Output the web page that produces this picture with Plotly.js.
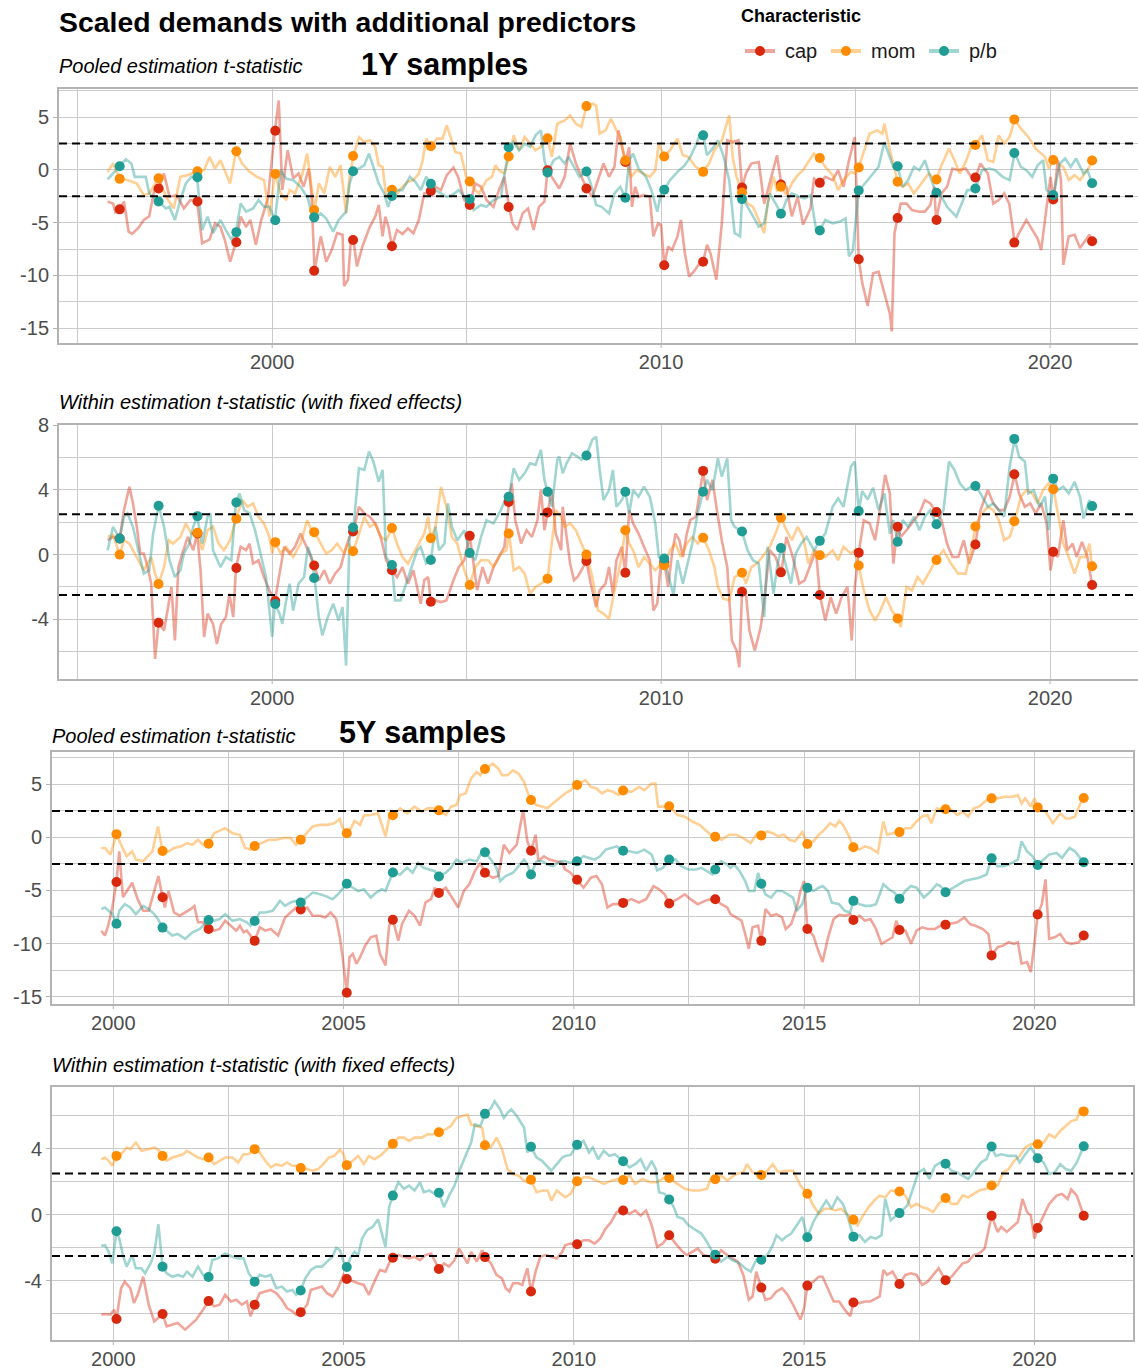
<!DOCTYPE html>
<html><head><meta charset="utf-8">
<script src="https://cdn.plot.ly/plotly-3.0.1.min.js"></script>
<style>html,body{margin:0;padding:0;background:#fff;}#chart{width:1138px;height:1372px;}</style>
</head><body><div id="chart"></div>
<script>
// ---------- marker sample dates ----------
const YEARS_1Y = [1996.08,1997.08,1998.08,1999.08,2000.08,2001.08,2002.08,2003.08,2004.08,2005.08,2006.08,2007.08,2008.08,2009.08,2010.08,2011.08,2012.08,2013.08,2014.08,2015.08,2016.08,2017.08,2018.08,2019.08,2020.08,2021.08];
const YEARS_5Y = [2000.07,2001.07,2002.07,2003.07,2004.07,2005.07,2006.07,2007.07,2008.07,2009.07,2010.07,2011.07,2012.07,2013.07,2014.07,2015.07,2016.07,2017.07,2018.07,2019.07,2020.07,2021.07];

// ---------- Panel 1: 1Y pooled ----------
const P1_cap_pts = [-3.74,-1.76,-3.0,-6.86,3.71,-9.56,-6.64,-7.23,-2.01,-3.33,-3.52,-0.03,-1.76,0.75,-9.03,-8.71,-1.67,-1.38,-1.23,-8.46,-4.56,-4.75,-0.72,-6.89,-2.8,-6.76];
const P1_mom_pts = [-0.85,-0.79,-0.13,1.76,-0.38,-3.8,1.32,-1.89,2.23,-1.1,1.26,2.99,6.04,0.88,1.26,-0.19,-2.14,-1.6,1.13,0.22,-1.13,-0.91,2.36,4.78,0.94,0.88];
const P1_pb_pts  = [0.35,-3.0,-0.7,-5.9,-4.78,-4.5,-0.13,-2.48,-1.32,-2.77,2.14,-0.25,-0.16,-2.64,-1.89,3.27,-2.77,-4.15,-5.75,-1.95,0.35,-2.17,-1.76,1.6,-2.39,-1.26];

const P1_cap_t = [1995.77,1995.91,1995.97,1996.08,1996.19,1996.31,1996.40,1996.56,1996.70,1996.84,1996.97,1997.08,1997.22,1997.36,1997.55,1997.73,1997.90,1998.07,1998.20,1998.39,1998.53,1998.67,1998.78,1998.92,1999.07,1999.19,1999.33,1999.44,1999.58,1999.72,1999.89,2000.07,2000.17,2000.26,2000.40,2000.54,2000.68,2000.81,2000.94,2001.01,2001.09,2001.25,2001.39,2001.53,2001.67,2001.81,2001.85,2001.95,2002.02,2002.09,2002.18,2002.32,2002.51,2002.65,2002.74,2002.84,2002.91,2002.99,2003.08,2003.21,2003.35,2003.49,2003.63,2003.77,2003.91,2004.08,2004.20,2004.34,2004.49,2004.66,2004.78,2004.94,2005.08,2005.22,2005.37,2005.51,2005.69,2005.83,2005.97,2006.09,2006.18,2006.30,2006.44,2006.58,2006.72,2006.86,2007.00,2007.08,2007.24,2007.38,2007.52,2007.66,2007.81,2007.95,2008.08,2008.23,2008.38,2008.52,2008.66,2008.80,2008.90,2008.99,2009.08,2009.18,2009.25,2009.33,2009.42,2009.56,2009.71,2009.80,2009.92,2010.00,2010.08,2010.18,2010.28,2010.42,2010.51,2010.61,2010.72,2010.85,2010.99,2011.08,2011.18,2011.27,2011.42,2011.56,2011.70,2011.84,2011.99,2012.08,2012.18,2012.32,2012.51,2012.65,2012.79,2012.98,2013.09,2013.22,2013.36,2013.51,2013.65,2013.84,2013.93,2014.08,2014.22,2014.41,2014.55,2014.69,2014.83,2014.98,2015.08,2015.17,2015.31,2015.45,2015.59,2015.74,2015.88,2015.93,2016.00,2016.08,2016.16,2016.31,2016.45,2016.64,2016.78,2016.92,2017.02,2017.07,2017.21,2017.35,2017.49,2017.64,2017.83,2017.97,2018.08,2018.21,2018.40,2018.54,2018.68,2018.82,2018.95,2019.09,2019.20,2019.39,2019.54,2019.68,2019.77,2019.87,2020.01,2020.09,2020.20,2020.28,2020.34,2020.48,2020.63,2020.77,2020.91,2021.01,2021.08];
const P1_cap_v = [-3.0,-3.2,-4.0,-3.74,-3.0,-5.85,-6.07,-5.5,-4.75,-4.4,-1.9,-1.76,-0.35,-2.55,-2.4,-3.65,-2.86,-3.0,-6.95,-6.6,-5.06,-5.4,-6.6,-8.7,-6.86,-4.43,-5.4,-4.75,-7.1,-4.75,-2.7,3.71,6.57,-1.9,1.86,-0.8,-0.35,-1.6,0.13,-2.2,-9.56,-6.3,-8.7,-7.6,-6.0,-6.15,-11.0,-10.4,-6.9,-6.64,-9.15,-7.26,-5.4,-4.43,-3.33,-6.3,-4.43,-5.4,-7.23,-5.7,-6.07,-5.54,-6.0,-4.75,-2.23,-2.01,-1.6,-1.92,-0.5,0.22,-0.66,-2.86,-3.33,-1.29,-1.6,-2.86,-3.5,-1.92,-0.66,-3.52,-5.06,-5.7,-4.12,-3.65,-5.7,-3.5,-3.0,-0.03,-0.97,-1.76,-0.66,2.48,0.6,-0.66,-1.76,-2.55,-1.0,0.6,-0.66,0.28,3.74,2.17,0.75,2.17,-3.5,-1.6,-2.55,-2.4,-2.55,-6.3,-5.06,-5.2,-9.03,-7.26,-7.6,-6.3,-4.75,-7.9,-10.1,-9.6,-8.84,-8.71,-7.1,-7.9,-10.4,-5.06,2.8,2.64,2.8,-1.67,-0.35,0.6,0.75,-3.2,-1.29,1.38,-1.38,-1.6,-4.4,-2.55,-5.2,-3.65,-0.82,-1.23,-0.66,-0.97,-0.03,-1.6,0.91,3.1,-8.46,-10.7,-12.9,-9.8,-9.65,-11.7,-13.6,-15.3,-6.0,-4.56,-3.2,-3.2,-3.8,-3.96,-3.96,-3.33,-1.6,-4.75,-2.23,-1.6,0.13,-0.03,0.13,-0.66,-0.72,0.6,-0.35,-3.2,-2.86,-2.23,-3.2,-6.89,-6.0,-4.75,-5.7,-6.5,-7.6,-4.75,-0.66,-2.8,0.91,-0.97,-9.0,-6.3,-6.15,-7.4,-6.6,-6.15,-6.76];

const P1_mom_t = [1995.77,1995.91,1996.08,1996.28,1996.52,1996.70,1996.84,1997.08,1997.27,1997.47,1997.64,1997.83,1998.07,1998.25,1998.39,1998.53,1998.67,1998.81,1998.92,1999.07,1999.23,1999.42,1999.61,1999.79,1999.93,2000.07,2000.22,2000.36,2000.45,2000.59,2000.78,2000.90,2001.01,2001.09,2001.20,2001.34,2001.48,2001.62,2001.76,2001.90,2001.99,2002.09,2002.23,2002.37,2002.51,2002.65,2002.74,2002.84,2002.93,2003.08,2003.21,2003.35,2003.49,2003.63,2003.77,2003.87,2003.96,2004.08,2004.24,2004.38,2004.49,2004.62,2004.71,2004.85,2004.99,2005.08,2005.22,2005.32,2005.51,2005.65,2005.74,2005.83,2005.97,2006.09,2006.21,2006.35,2006.49,2006.63,2006.77,2006.91,2007.08,2007.19,2007.33,2007.52,2007.66,2007.81,2007.95,2008.08,2008.23,2008.33,2008.42,2008.57,2008.71,2008.85,2008.95,2009.08,2009.23,2009.37,2009.56,2009.71,2009.85,2009.94,2010.08,2010.23,2010.42,2010.56,2010.70,2010.89,2011.08,2011.23,2011.37,2011.56,2011.75,2011.84,2011.94,2012.08,2012.22,2012.36,2012.51,2012.65,2012.74,2012.89,2012.98,2013.09,2013.22,2013.36,2013.51,2013.65,2013.84,2013.93,2014.08,2014.22,2014.41,2014.55,2014.69,2014.88,2014.98,2015.08,2015.21,2015.36,2015.55,2015.69,2015.74,2015.88,2016.02,2016.08,2016.21,2016.35,2016.50,2016.69,2016.88,2016.97,2017.07,2017.21,2017.40,2017.54,2017.68,2017.83,2017.97,2018.08,2018.25,2018.40,2018.54,2018.68,2018.82,2018.96,2019.09,2019.25,2019.44,2019.63,2019.73,2019.87,2019.96,2020.09,2020.20,2020.34,2020.48,2020.63,2020.77,2020.91,2021.01,2021.08];
const P1_mom_v = [-0.19,0.6,-0.85,-0.97,-1.3,-2.4,-2.23,-0.79,-2.55,-3.65,-0.66,-0.5,-0.13,-0.03,1.23,0.13,0.91,-0.35,-1.3,1.76,0.6,-0.19,-0.66,-0.97,-4.43,-0.38,-2.23,-2.86,-1.92,-2.23,-0.35,1.54,-1.6,-3.8,-1.29,-2.23,0.28,-0.66,0.44,-4.12,-0.66,1.32,3.1,2.64,2.8,2.17,0.44,0.28,-2.55,-1.89,-2.23,-1.6,-1.13,-0.97,-0.35,0.91,2.96,2.23,2.96,2.96,4.21,2.64,1.7,1.54,-0.66,-1.1,-1.92,-2.23,-0.97,-0.66,0.44,-0.03,-0.35,1.26,3.27,1.86,3.12,2.48,1.86,2.17,2.99,1.23,4.37,4.68,5.16,4.37,4.06,6.04,6.26,6.1,3.43,3.74,4.84,3.74,3.12,0.88,-0.66,-0.03,-0.35,-0.66,-0.03,2.48,1.26,1.86,2.96,1.38,1.23,0.28,-0.19,0.6,1.86,2.8,5.16,1.23,-0.66,-2.14,-3.18,-3.5,-4.75,-6.0,-3.18,-0.66,-1.92,-1.6,-2.4,-1.29,-0.5,-0.03,1.07,1.54,1.13,0.28,-0.5,-1.92,-0.97,-0.19,-0.35,0.22,1.7,3.43,3.74,3.43,4.37,1.86,-0.19,-1.13,-1.6,-1.29,-2.23,-1.29,-0.35,-0.66,-0.91,0.44,2.01,0.91,-0.35,0.75,2.17,2.36,3.27,0.91,0.75,3.27,2.48,3.12,4.78,3.9,3.12,2.01,1.7,1.23,0.13,0.94,0.6,0.28,-0.97,-0.5,-0.97,-0.19,0.28,0.88];

const P1_pb_t = [1995.77,1995.91,1996.08,1996.24,1996.38,1996.47,1996.66,1996.75,1996.84,1996.99,1997.08,1997.27,1997.36,1997.50,1997.64,1997.78,1997.92,1998.07,1998.20,1998.34,1998.48,1998.67,1998.81,1998.95,1999.07,1999.19,1999.33,1999.51,1999.65,1999.79,1999.93,2000.00,2000.07,2000.22,2000.36,2000.54,2000.73,2000.92,2001.01,2001.09,2001.25,2001.39,2001.57,2001.71,2001.90,2001.99,2002.09,2002.23,2002.37,2002.49,2002.60,2002.74,2002.88,2002.98,2003.08,2003.21,2003.35,2003.54,2003.68,2003.82,2003.96,2004.08,2004.20,2004.34,2004.48,2004.62,2004.80,2004.94,2005.08,2005.18,2005.37,2005.51,2005.69,2005.88,2006.02,2006.09,2006.21,2006.35,2006.49,2006.63,2006.77,2006.91,2007.00,2007.08,2007.24,2007.38,2007.52,2007.62,2007.76,2007.90,2008.08,2008.19,2008.33,2008.47,2008.66,2008.80,2008.95,2009.08,2009.18,2009.28,2009.42,2009.61,2009.75,2009.90,2010.00,2010.08,2010.23,2010.42,2010.61,2010.75,2010.89,2010.99,2011.08,2011.18,2011.32,2011.46,2011.61,2011.75,2011.89,2012.03,2012.08,2012.17,2012.32,2012.51,2012.65,2012.79,2012.94,2013.09,2013.22,2013.36,2013.55,2013.69,2013.84,2013.98,2014.08,2014.22,2014.41,2014.60,2014.74,2014.83,2014.93,2015.08,2015.17,2015.31,2015.45,2015.59,2015.74,2015.88,2015.97,2016.08,2016.21,2016.35,2016.50,2016.64,2016.78,2016.92,2017.07,2017.21,2017.35,2017.59,2017.73,2017.87,2017.97,2018.08,2018.25,2018.44,2018.59,2018.78,2018.96,2019.09,2019.25,2019.39,2019.54,2019.68,2019.82,2019.91,2020.09,2020.25,2020.39,2020.53,2020.67,2020.86,2020.96,2021.08];
const P1_pb_v = [-0.9,-0.35,0.35,1.0,0.6,-0.66,-0.66,-0.66,-2.23,-2.7,-3.0,-3.65,-3.5,-4.75,-2.86,-1.29,-0.66,-0.7,-5.7,-4.43,-6.0,-4.75,-5.7,-6.6,-5.9,-3.18,-3.96,-3.65,-2.86,-3.5,-3.5,-4.12,-4.78,-0.03,-0.82,-0.97,-1.6,-2.7,-4.12,-4.5,-4.12,-4.6,-5.85,-4.75,-3.96,-1.29,-0.13,0.13,0.44,1.54,0.28,-1.29,-2.23,-3.5,-2.48,-1.92,-1.92,-0.66,-1.13,-1.92,-0.66,-1.32,-1.92,-2.23,-2.55,-2.4,-1.92,-2.55,-2.77,-3.8,-3.33,-3.5,-2.86,-2.55,0.6,2.14,2.64,1.86,2.48,2.17,3.27,3.74,0.91,-0.25,0.91,1.23,0.6,1.23,0.28,-0.66,-0.16,-1.29,-3.33,-3.5,-4.12,-2.23,-1.6,-2.64,0.91,1.54,0.13,-0.66,-1.92,-3.96,-2.23,-1.89,-0.97,-0.19,0.44,1.23,2.33,3.27,3.27,1.38,2.01,2.8,1.23,-0.97,-6.0,-6.3,-2.77,-3.18,-4.12,-5.38,-5.06,-2.23,-3.18,-4.15,-2.86,-2.23,-2.55,-2.7,-2.4,-5.54,-5.75,-4.75,-5.06,-4.9,-4.6,-8.2,-7.6,-1.95,-1.6,-0.97,-0.35,0.28,2.64,1.23,0.28,0.35,-1.6,-0.97,0.28,-0.03,0.91,-0.66,-2.17,-2.55,-3.5,-4.43,-3.18,-1.92,-1.92,-1.76,-0.03,0.13,-0.03,-0.66,-0.97,1.6,0.28,-0.03,-0.66,0.44,0.91,-1.92,-2.39,0.6,1.07,0.28,1.07,-0.35,-0.03,-1.26];

// ---------- Panel 2: 1Y within ----------
const P2_cap_pts = [1.0,-4.22,1.3,-0.83,-2.88,-0.68,1.43,-0.97,-2.92,1.16,3.25,2.61,-0.39,-1.12,-0.46,5.18,-2.3,-1.1,-2.5,0.12,1.72,2.63,0.62,4.97,0.17,-1.88];
const P2_mom_pts = [0.0,-1.82,1.35,2.22,0.77,1.39,0.21,1.64,1.01,-1.88,1.3,-1.49,0.0,1.51,-0.66,1.04,-1.12,2.28,-0.04,-0.68,-3.95,-0.33,1.74,2.07,4.04,-0.72];
const P2_pb_pts  = [0.99,3.02,2.38,3.23,-3.06,-1.45,1.68,-0.64,-0.33,0.1,3.58,3.89,6.13,3.89,-0.25,3.89,1.43,0.41,0.85,2.69,0.79,1.88,4.24,7.16,4.7,3.0];

const P2_cap_t = [1995.77,1995.91,1996.08,1996.19,1996.33,1996.42,1996.52,1996.61,1996.70,1996.80,1996.89,1996.99,1997.08,1997.22,1997.31,1997.41,1997.50,1997.59,1997.69,1997.83,1997.97,1998.07,1998.16,1998.25,1998.34,1998.48,1998.58,1998.69,1998.81,1998.90,1999.00,1999.07,1999.19,1999.33,1999.42,1999.51,1999.65,1999.79,1999.93,2000.07,2000.19,2000.31,2000.45,2000.59,2000.73,2000.87,2000.96,2001.09,2001.20,2001.34,2001.48,2001.62,2001.76,2001.90,2001.99,2002.09,2002.23,2002.37,2002.51,2002.65,2002.79,2002.93,2003.08,2003.21,2003.35,2003.49,2003.63,2003.82,2003.91,2004.01,2004.08,2004.20,2004.34,2004.48,2004.66,2004.80,2004.94,2005.08,2005.18,2005.27,2005.41,2005.55,2005.69,2005.83,2005.97,2006.09,2006.16,2006.25,2006.40,2006.54,2006.68,2006.82,2006.91,2007.00,2007.08,2007.19,2007.29,2007.43,2007.47,2007.57,2007.66,2007.76,2007.85,2007.95,2008.08,2008.19,2008.33,2008.42,2008.57,2008.66,2008.76,2008.85,2008.99,2009.08,2009.18,2009.28,2009.42,2009.56,2009.71,2009.80,2009.90,2010.00,2010.08,2010.18,2010.28,2010.37,2010.47,2010.56,2010.66,2010.75,2010.89,2010.99,2011.08,2011.18,2011.32,2011.42,2011.56,2011.70,2011.82,2011.94,2012.01,2012.08,2012.18,2012.27,2012.41,2012.56,2012.65,2012.79,2012.94,2013.09,2013.22,2013.36,2013.46,2013.55,2013.69,2013.84,2013.98,2014.08,2014.22,2014.36,2014.50,2014.64,2014.79,2014.90,2014.98,2015.08,2015.21,2015.36,2015.50,2015.64,2015.76,2015.88,2015.97,2016.08,2016.16,2016.31,2016.45,2016.64,2016.78,2016.92,2017.07,2017.21,2017.35,2017.49,2017.64,2017.78,2017.92,2018.08,2018.21,2018.40,2018.54,2018.68,2018.82,2018.96,2019.09,2019.20,2019.35,2019.49,2019.63,2019.77,2019.91,2020.01,2020.09,2020.20,2020.34,2020.44,2020.58,2020.68,2020.82,2020.96,2021.08];
const P2_cap_v = [0.89,1.1,1.0,2.75,4.2,3.19,1.72,0.06,0.06,-0.77,-1.8,-6.46,-4.22,-4.7,-3.46,-2.0,-5.32,-0.77,0.06,1.09,0.27,1.3,-0.97,-5.1,-3.66,-4.29,-5.53,-4.29,-3.87,-2.42,-3.87,-0.83,0.48,0.27,0.68,-0.56,-0.35,-1.39,-2.22,-2.88,-1.18,0.48,0.06,0.48,1.3,0.48,0.06,-0.68,-1.59,-0.97,-1.8,-1.18,-0.77,0.48,1.09,1.43,2.96,2.55,2.34,1.93,1.09,-0.35,-0.97,-1.39,-0.77,-1.8,-0.97,-3.04,-1.59,-1.39,-2.92,-2.84,-2.94,-2.84,-1.59,-0.77,-0.35,1.16,-0.77,-2.2,-0.77,-1.8,-0.77,-0.15,0.48,3.25,4.4,2.13,0.68,1.51,1.09,2.13,4.0,1.51,2.61,4.0,1.3,0.27,2.96,1.09,-0.56,-1.59,-1.39,-0.97,-0.39,-1.8,-3.25,-2.22,-1.8,-0.77,-2.42,-0.35,0.48,-1.12,2.75,1.93,1.3,0.48,-0.35,-3.46,-3.04,-0.35,-0.46,-1.99,0.06,1.3,0.89,-0.15,1.3,2.13,2.34,3.79,5.18,3.37,4.62,2.96,0.89,-0.77,-5.32,-5.94,-6.98,-2.3,-2.42,-4.7,-5.94,-4.49,-2.84,0.27,-0.15,-1.1,1.09,0.06,-0.97,-1.8,-1.59,-0.56,0.27,-2.5,-4.08,-2.63,-3.66,-2.63,-2.0,-5.32,-2.0,0.12,2.13,1.93,0.89,2.96,4.93,3.79,-0.56,1.72,1.09,1.51,1.93,2.55,3.37,3.17,2.63,2.13,0.68,-0.15,-0.15,0.89,-0.56,0.62,2.75,4.0,3.17,2.75,2.75,3.58,4.97,3.79,2.96,3.17,2.55,3.17,1.93,-0.98,0.17,-0.15,2.13,0.27,0.68,-0.15,0.78,-0.15,-1.88];

const P2_mom_t = [1995.77,1995.91,1996.08,1996.19,1996.33,1996.47,1996.56,1996.70,1996.89,1996.99,1997.08,1997.22,1997.34,1997.45,1997.64,1997.78,1997.92,1998.07,1998.20,1998.34,1998.48,1998.62,1998.76,1998.92,1999.07,1999.23,1999.37,1999.51,1999.65,1999.79,1999.93,2000.00,2000.07,2000.22,2000.36,2000.54,2000.73,2000.90,2001.01,2001.09,2001.20,2001.39,2001.53,2001.67,2001.85,2001.95,2002.09,2002.23,2002.37,2002.51,2002.65,2002.79,2002.93,2003.08,2003.21,2003.35,2003.49,2003.63,2003.77,2003.91,2004.01,2004.08,2004.20,2004.34,2004.48,2004.62,2004.76,2004.94,2005.08,2005.22,2005.37,2005.55,2005.69,2005.88,2006.02,2006.09,2006.21,2006.35,2006.49,2006.63,2006.77,2006.91,2007.08,2007.19,2007.29,2007.43,2007.52,2007.66,2007.81,2007.95,2008.08,2008.23,2008.38,2008.52,2008.66,2008.80,2008.95,2009.08,2009.18,2009.28,2009.42,2009.56,2009.71,2009.85,2010.00,2010.08,2010.23,2010.37,2010.51,2010.66,2010.80,2010.94,2011.08,2011.23,2011.37,2011.46,2011.60,2011.75,2011.89,2012.08,2012.18,2012.32,2012.46,2012.60,2012.79,2012.94,2013.09,2013.22,2013.36,2013.51,2013.65,2013.79,2013.93,2014.08,2014.22,2014.41,2014.55,2014.69,2014.88,2014.98,2015.08,2015.21,2015.36,2015.50,2015.64,2015.78,2015.93,2016.08,2016.16,2016.31,2016.45,2016.59,2016.73,2016.88,2017.07,2017.26,2017.45,2017.64,2017.83,2017.97,2018.08,2018.25,2018.40,2018.54,2018.68,2018.82,2018.96,2019.09,2019.25,2019.39,2019.54,2019.68,2019.82,2019.96,2020.09,2020.20,2020.34,2020.48,2020.63,2020.77,2020.91,2021.01,2021.08];
const P2_mom_v = [1.1,1.2,0.0,0.89,0.68,0.06,-0.35,-0.97,-0.15,-1.18,-1.82,-0.77,0.89,0.68,1.09,1.93,1.3,1.35,0.27,1.51,1.72,0.68,0.27,0.89,2.22,3.37,2.96,3.17,2.34,1.93,1.09,0.06,0.77,0.06,0.48,-0.15,0.68,2.13,1.51,1.39,0.89,0.06,0.27,0.68,0.06,0.68,0.21,1.3,2.34,1.72,1.93,1.09,0.89,1.64,0.68,-0.15,-0.56,0.06,0.68,1.3,2.34,1.01,1.72,4.2,2.96,1.09,0.68,-0.97,-1.88,-0.77,-0.35,-0.35,-0.77,0.06,0.27,1.3,-0.97,-0.77,-1.18,-2.42,-2.0,-1.8,-1.49,0.68,2.75,2.34,1.72,1.93,1.51,0.68,0.0,-1.39,-3.46,-3.66,-3.97,-2.22,-0.56,1.51,0.68,0.27,-0.77,-0.15,-0.56,-0.97,-0.56,-0.66,0.27,0.68,-0.15,0.68,1.09,0.68,1.04,0.27,-0.77,-2.0,-2.73,-2.84,-1.39,-1.12,-1.8,-0.77,-0.56,-0.15,0.48,1.3,2.28,1.51,0.89,1.72,1.09,-0.56,0.27,-0.04,-0.15,0.27,-0.35,0.48,0.06,0.27,-0.68,-2.22,-3.46,-4.08,-3.46,-2.63,-3.46,-3.95,-4.49,-2.0,-2.22,-1.39,-1.8,-1.18,-0.33,0.27,-0.56,-1.18,-1.18,0.27,1.74,2.55,2.96,2.75,2.13,0.89,1.09,2.07,3.58,3.99,3.79,3.17,3.99,4.41,4.04,2.55,0.68,-0.15,-1.18,-0.15,-0.15,0.68,-0.72];

const P2_pb_t = [1995.77,1995.91,1996.08,1996.19,1996.28,1996.42,1996.56,1996.70,1996.84,1996.94,1997.08,1997.22,1997.36,1997.50,1997.64,1997.73,1997.87,1997.97,1998.07,1998.20,1998.34,1998.41,1998.48,1998.67,1998.81,1998.95,1999.07,1999.16,1999.28,1999.42,1999.56,1999.70,1999.84,2000.00,2000.07,2000.19,2000.26,2000.36,2000.45,2000.54,2000.68,2000.82,2000.92,2001.01,2001.09,2001.20,2001.29,2001.43,2001.57,2001.71,2001.81,2001.90,2001.99,2002.09,2002.23,2002.37,2002.49,2002.60,2002.74,2002.84,2002.93,2003.08,2003.16,2003.30,2003.45,2003.59,2003.73,2003.82,2003.96,2004.08,2004.20,2004.29,2004.43,2004.52,2004.62,2004.76,2004.94,2005.08,2005.22,2005.37,2005.51,2005.69,2005.88,2006.02,2006.09,2006.21,2006.35,2006.49,2006.63,2006.77,2006.91,2007.00,2007.08,2007.19,2007.33,2007.38,2007.47,2007.57,2007.71,2007.85,2007.95,2008.08,2008.23,2008.33,2008.42,2008.52,2008.66,2008.76,2008.85,2008.99,2009.08,2009.18,2009.28,2009.42,2009.56,2009.71,2009.85,2009.94,2010.08,2010.18,2010.32,2010.42,2010.56,2010.66,2010.80,2010.94,2011.08,2011.18,2011.32,2011.46,2011.56,2011.70,2011.80,2011.89,2012.08,2012.22,2012.36,2012.51,2012.65,2012.74,2012.89,2012.98,2013.09,2013.22,2013.34,2013.46,2013.60,2013.74,2013.93,2014.08,2014.22,2014.41,2014.55,2014.69,2014.88,2014.98,2015.08,2015.17,2015.31,2015.45,2015.59,2015.74,2015.88,2015.97,2016.08,2016.21,2016.35,2016.50,2016.64,2016.78,2016.92,2017.07,2017.26,2017.40,2017.54,2017.68,2017.83,2017.97,2018.08,2018.21,2018.40,2018.54,2018.68,2018.82,2018.96,2019.09,2019.20,2019.35,2019.44,2019.58,2019.73,2019.87,2019.96,2020.09,2020.20,2020.34,2020.48,2020.63,2020.77,2020.86,2021.01,2021.08];
const P2_pb_v = [0.27,1.72,0.99,2.34,2.55,1.72,0.27,-1.18,-0.97,1.3,3.02,1.72,-0.35,-1.39,-0.97,0.06,0.68,1.72,2.38,0.68,2.34,2.55,0.27,-0.77,-0.15,-0.35,3.23,3.79,2.75,2.55,1.51,0.06,-1.39,-5.1,-3.06,-3.66,-4.29,-2.84,-1.8,-3.46,-1.8,-1.39,0.48,-0.15,-1.45,-3.87,-5.0,-3.87,-3.04,-4.08,-3.25,-6.87,1.09,1.68,5.34,5.24,6.38,5.76,4.51,5.24,-0.15,-0.64,-2.84,-2.84,-1.8,-0.77,0.27,0.48,-0.56,-0.33,1.72,0.27,0.68,3.17,1.72,0.89,1.51,0.1,-0.35,1.09,2.13,1.93,2.75,3.58,3.58,5.34,4.62,5.03,5.65,5.55,6.48,4.62,3.89,2.96,5.86,6.07,5.03,5.65,6.27,6.07,5.86,6.13,7.1,7.3,5.24,3.37,3.99,5.24,2.96,3.37,3.89,2.55,3.99,3.58,4.2,3.58,1.93,-0.15,-0.25,-1.18,-2.53,-0.35,-1.8,-0.77,0.68,2.55,3.89,4.62,3.99,5.96,4.82,5.96,2.13,1.72,1.43,0.27,-0.35,-0.56,-3.87,0.48,-2.42,-0.77,0.41,-0.77,-1.8,0.06,0.68,1.09,0.27,0.85,1.3,2.96,3.48,2.96,5.45,5.76,2.69,3.93,3.41,4.14,2.75,3.79,1.3,2.13,0.79,2.13,1.72,2.34,1.51,2.34,2.75,1.88,2.75,5.76,5.24,4.41,3.99,4.2,4.24,3.79,2.96,3.17,2.75,2.34,5.45,7.16,6.07,5.76,3.79,3.99,2.96,3.58,1.51,4.7,3.99,4.2,3.79,4.51,3.58,2.24,3.37,3.0];

// ---------- Panel 3: 5Y pooled ----------
const P3_cap_pts = [-4.2,-5.64,-8.63,-9.75,-6.79,-14.64,-7.76,-5.23,-3.33,-1.25,-3.99,-6.17,-6.23,-5.83,-9.75,-8.63,-7.79,-8.72,-8.22,-11.12,-7.26,-9.25];
const P3_mom_pts = [0.31,-1.28,-0.59,-0.81,-0.22,0.4,2.09,2.55,6.45,3.52,4.95,4.42,2.93,0.06,0.19,-0.62,-0.93,0.5,2.65,3.68,2.83,3.71];
const P3_pb_pts  = [-8.13,-8.5,-7.79,-7.88,-6.14,-4.36,-3.3,-3.68,-1.4,-3.49,-2.24,-1.25,-2.09,-3.02,-4.36,-4.74,-5.98,-5.79,-5.17,-1.96,-2.59,-2.34];

const P3_cap_t = [1999.74,1999.82,1999.90,1999.98,2000.07,2000.13,2000.21,2000.29,2000.41,2000.53,2000.65,2000.77,2000.89,2000.98,2001.07,2001.12,2001.20,2001.32,2001.44,2001.56,2001.68,2001.76,2001.84,2001.95,2002.07,2002.19,2002.31,2002.43,2002.55,2002.67,2002.75,2002.83,2002.90,2002.98,2003.07,2003.18,2003.30,2003.42,2003.58,2003.73,2003.85,2003.97,2004.07,2004.21,2004.33,2004.49,2004.60,2004.72,2004.84,2004.92,2004.98,2005.07,2005.13,2005.20,2005.28,2005.36,2005.47,2005.59,2005.71,2005.79,2005.91,2005.99,2006.07,2006.19,2006.27,2006.42,2006.54,2006.66,2006.78,2006.90,2006.98,2007.07,2007.22,2007.33,2007.49,2007.61,2007.73,2007.85,2007.97,2008.07,2008.24,2008.36,2008.48,2008.60,2008.76,2008.90,2008.99,2009.07,2009.17,2009.23,2009.35,2009.47,2009.59,2009.75,2009.81,2009.93,2010.07,2010.21,2010.37,2010.49,2010.61,2010.73,2010.85,2010.97,2011.07,2011.25,2011.41,2011.57,2011.73,2011.85,2011.97,2012.07,2012.25,2012.41,2012.53,2012.69,2012.85,2012.97,2013.07,2013.20,2013.33,2013.40,2013.52,2013.64,2013.72,2013.80,2013.88,2014.00,2014.07,2014.16,2014.28,2014.40,2014.52,2014.60,2014.72,2014.84,2014.92,2015.00,2015.07,2015.20,2015.28,2015.40,2015.52,2015.64,2015.76,2015.88,2016.00,2016.07,2016.20,2016.32,2016.44,2016.56,2016.68,2016.80,2016.92,2017.00,2017.07,2017.20,2017.32,2017.44,2017.56,2017.68,2017.84,2017.96,2018.07,2018.20,2018.32,2018.48,2018.60,2018.72,2018.88,2019.00,2019.07,2019.20,2019.32,2019.44,2019.56,2019.64,2019.72,2019.84,2019.92,2020.00,2020.07,2020.16,2020.24,2020.32,2020.44,2020.56,2020.68,2020.80,2020.96,2021.07];
const P3_cap_v = [-8.79,-9.25,-8.16,-6.6,-4.2,-1.31,-5.64,-5.05,-4.27,-5.82,-6.91,-6.91,-4.89,-3.64,-5.64,-6.6,-5.05,-7.07,-7.38,-7.07,-6.76,-6.45,-8.0,-8.0,-8.63,-8.79,-8.63,-7.85,-8.32,-8.79,-8.32,-8.94,-8.79,-9.25,-9.75,-8.47,-8.79,-8.63,-9.25,-7.54,-7.07,-6.6,-6.79,-6.6,-7.38,-7.38,-7.54,-7.07,-7.69,-9.41,-11.28,-14.64,-11.28,-10.97,-11.9,-11.28,-10.19,-9.41,-9.25,-10.97,-12.06,-8.32,-7.76,-9.72,-8.16,-6.91,-7.38,-8.32,-6.13,-5.82,-4.74,-5.23,-4.74,-5.51,-6.6,-5.05,-4.42,-3.18,-2.4,-3.33,-3.8,-3.64,-0.69,-1.46,-0.69,2.59,-0.37,-1.25,0.25,-2.24,-1.78,-2.09,-2.24,-2.4,-3.02,-3.33,-3.99,-4.74,-3.8,-3.64,-4.42,-6.6,-6.29,-6.29,-6.17,-5.82,-6.13,-5.82,-4.58,-4.89,-5.36,-6.23,-5.82,-5.36,-5.82,-6.29,-5.98,-5.82,-5.83,-6.29,-6.6,-7.23,-7.54,-7.85,-9.1,-10.5,-8.47,-8.32,-9.75,-6.76,-7.38,-7.23,-7.54,-8.63,-8.16,-6.6,-5.05,-4.11,-8.63,-9.25,-10.34,-11.74,-9.41,-7.69,-7.29,-7.38,-7.23,-7.79,-7.38,-7.85,-7.69,-8.63,-10.03,-9.72,-9.41,-7.85,-8.72,-8.79,-10.03,-8.79,-8.47,-8.63,-8.63,-8.32,-8.22,-8.16,-8.0,-7.54,-8.16,-8.32,-8.63,-9.1,-11.12,-10.34,-10.19,-9.88,-10.03,-9.88,-11.9,-11.74,-12.68,-10.03,-7.26,-6.29,-3.96,-9.56,-9.41,-9.1,-9.88,-10.03,-9.88,-9.25];

const P3_mom_t = [1999.74,1999.82,1999.94,2000.07,2000.17,2000.29,2000.41,2000.49,2000.65,2000.77,2000.85,2000.97,2001.07,2001.20,2001.32,2001.48,2001.60,2001.72,2001.84,2001.95,2002.07,2002.19,2002.31,2002.43,2002.59,2002.75,2002.86,2002.98,2003.07,2003.22,2003.38,2003.54,2003.69,2003.85,2003.97,2004.07,2004.21,2004.33,2004.49,2004.64,2004.80,2004.92,2004.98,2005.07,2005.16,2005.24,2005.36,2005.44,2005.59,2005.75,2005.83,2005.91,2005.99,2006.07,2006.23,2006.38,2006.54,2006.70,2006.82,2006.94,2007.07,2007.22,2007.33,2007.45,2007.53,2007.65,2007.77,2007.89,2007.97,2008.07,2008.24,2008.36,2008.44,2008.56,2008.68,2008.80,2008.92,2008.99,2009.07,2009.19,2009.31,2009.43,2009.55,2009.67,2009.81,2009.93,2010.07,2010.25,2010.37,2010.49,2010.61,2010.73,2010.85,2010.97,2011.07,2011.25,2011.41,2011.53,2011.69,2011.77,2011.83,2011.97,2012.07,2012.25,2012.41,2012.57,2012.73,2012.85,2012.97,2013.07,2013.21,2013.37,2013.52,2013.68,2013.84,2013.96,2014.07,2014.20,2014.32,2014.44,2014.56,2014.68,2014.80,2014.96,2015.07,2015.20,2015.32,2015.44,2015.56,2015.68,2015.76,2015.84,2015.96,2016.07,2016.20,2016.32,2016.44,2016.60,2016.72,2016.80,2016.92,2017.07,2017.20,2017.32,2017.44,2017.56,2017.68,2017.76,2017.88,2018.00,2018.07,2018.20,2018.32,2018.44,2018.56,2018.68,2018.80,2018.96,2019.07,2019.20,2019.36,2019.52,2019.64,2019.72,2019.80,2019.92,2020.00,2020.07,2020.24,2020.40,2020.56,2020.68,2020.76,2020.88,2021.00,2021.07];
const P3_mom_v = [-1.0,-1.0,-1.62,0.31,-0.69,-1.78,-1.31,-2.09,-2.24,-1.62,-1.31,1.03,-1.28,-1.31,-1.0,-0.84,-0.53,-0.69,-0.22,-0.69,-0.59,0.4,0.62,0.87,0.4,0.25,-1.0,-1.15,-0.81,-0.53,-0.22,-0.22,-0.06,-0.06,-0.69,-0.22,0.4,1.03,1.18,1.18,1.34,1.74,0.87,0.4,0.87,1.56,1.18,2.06,2.12,2.27,1.18,0.09,1.78,2.09,2.74,2.27,2.9,2.43,2.74,2.74,2.55,2.12,2.9,3.05,3.99,4.14,5.55,6.17,5.86,6.45,6.95,6.48,5.86,5.86,6.32,6.01,5.23,4.3,3.52,3.05,2.9,2.74,3.21,3.68,4.14,4.45,4.95,5.39,4.76,4.61,4.14,4.45,4.3,3.99,4.42,4.3,4.76,4.45,5.08,5.08,2.9,2.9,2.93,2.12,1.96,1.5,1.18,0.72,0.25,0.06,-0.22,0.25,0.25,-0.06,-0.53,0.25,0.19,0.56,0.4,0.09,0.25,-0.22,-0.37,0.5,-0.62,-0.37,0.25,0.72,1.34,1.03,1.56,1.18,0.25,-0.93,-1.15,-0.84,-1.0,-1.46,1.5,0.25,0.4,0.5,0.87,0.87,1.5,1.96,2.12,1.34,2.74,2.58,2.65,2.58,2.12,2.43,1.96,2.74,2.9,3.52,3.68,3.68,3.83,3.83,3.99,3.21,3.68,2.9,3.68,2.83,2.43,1.34,2.27,1.78,1.78,1.96,3.21,3.71];

const P3_pb_t = [1999.74,1999.82,1999.90,1999.98,2000.07,2000.13,2000.25,2000.37,2000.49,2000.65,2000.77,2000.89,2000.97,2001.07,2001.16,2001.28,2001.40,2001.56,2001.72,2001.88,2002.07,2002.19,2002.31,2002.43,2002.59,2002.75,2002.90,2002.98,2003.07,2003.18,2003.30,2003.46,2003.62,2003.73,2003.85,2003.97,2004.07,2004.21,2004.33,2004.49,2004.60,2004.76,2004.88,2005.00,2005.07,2005.20,2005.32,2005.44,2005.59,2005.71,2005.83,2005.91,2005.99,2006.07,2006.23,2006.38,2006.50,2006.62,2006.74,2006.86,2006.98,2007.07,2007.22,2007.33,2007.45,2007.57,2007.73,2007.89,2007.97,2008.07,2008.20,2008.32,2008.40,2008.52,2008.68,2008.80,2008.92,2008.99,2009.07,2009.19,2009.31,2009.43,2009.55,2009.71,2009.81,2009.93,2010.07,2010.21,2010.33,2010.45,2010.57,2010.69,2010.81,2010.93,2011.07,2011.21,2011.37,2011.53,2011.69,2011.81,2011.93,2012.07,2012.21,2012.33,2012.49,2012.65,2012.77,2012.89,2013.01,2013.07,2013.20,2013.33,2013.40,2013.48,2013.60,2013.72,2013.80,2013.92,2014.00,2014.07,2014.16,2014.28,2014.40,2014.52,2014.64,2014.76,2014.84,2014.96,2015.07,2015.20,2015.32,2015.40,2015.52,2015.60,2015.76,2015.88,2016.00,2016.07,2016.20,2016.32,2016.44,2016.56,2016.72,2016.84,2016.96,2017.07,2017.20,2017.32,2017.44,2017.60,2017.72,2017.88,2017.96,2018.07,2018.24,2018.36,2018.48,2018.64,2018.80,2018.96,2019.07,2019.20,2019.32,2019.44,2019.56,2019.64,2019.72,2019.84,2019.96,2020.07,2020.20,2020.32,2020.48,2020.60,2020.76,2020.88,2020.99,2021.07];
const P3_pb_v = [-6.76,-6.6,-6.91,-7.23,-8.13,-6.91,-6.29,-6.6,-7.23,-6.45,-6.76,-7.23,-7.69,-8.5,-8.79,-9.25,-9.1,-9.56,-8.94,-8.63,-7.79,-7.85,-7.69,-7.23,-7.85,-7.69,-8.0,-8.32,-7.88,-7.07,-7.07,-6.91,-5.98,-6.45,-6.13,-5.98,-6.14,-5.67,-5.2,-5.36,-5.51,-5.82,-5.36,-4.74,-4.36,-4.74,-5.05,-4.89,-5.67,-5.2,-4.89,-5.05,-4.11,-3.3,-3.49,-2.87,-3.33,-2.4,-2.87,-3.02,-3.18,-3.68,-3.33,-2.87,-2.09,-2.4,-2.09,-2.24,-1.62,-1.4,-2.09,-2.87,-4.11,-3.64,-3.33,-2.71,-2.09,-2.56,-3.49,-2.24,-2.24,-2.56,-2.71,-2.24,-2.24,-2.4,-2.24,-1.78,-1.93,-2.09,-1.78,-1.15,-1.0,-0.84,-1.25,-1.31,-1.46,-1.15,-1.62,-3.12,-2.87,-2.09,-2.09,-2.71,-3.02,-3.02,-2.87,-3.18,-3.49,-3.02,-2.24,-2.56,-2.87,-2.56,-3.18,-4.11,-5.05,-5.05,-3.33,-4.36,-5.36,-5.67,-5.05,-5.05,-5.36,-5.67,-6.92,-6.29,-4.74,-5.05,-4.74,-4.58,-5.05,-6.14,-6.29,-6.92,-7.07,-5.98,-6.29,-6.45,-6.45,-6.29,-4.42,-4.89,-5.2,-5.79,-5.05,-4.58,-4.74,-5.67,-5.2,-4.42,-4.58,-5.17,-4.74,-4.42,-4.11,-3.95,-3.8,-3.49,-1.96,-2.71,-2.71,-2.56,-2.24,-2.09,-0.37,-1.31,-1.78,-2.59,-2.09,-1.62,-1.46,-1.93,-1.0,-1.31,-1.93,-2.34];

// ---------- Panel 4: 5Y within ----------
const P4_cap_pts = [-6.33,-6.02,-5.24,-5.46,-5.92,-3.9,-2.61,-3.29,-2.57,-4.66,-1.79,0.26,-1.24,-2.67,-4.42,-4.3,-5.32,-4.2,-3.98,-0.06,-0.8,-0.06];
const P4_mom_pts = [3.57,3.57,3.47,3.98,2.83,3.01,4.3,5.0,4.22,2.13,2.03,2.11,2.23,2.15,2.41,1.27,-0.3,1.41,1.02,1.77,4.28,6.27];
const P4_pb_pts  = [-1.0,-3.15,-3.78,-4.06,-4.6,-3.17,1.16,1.33,6.12,4.12,4.24,3.25,0.92,-2.43,-2.73,-1.37,-1.33,0.1,3.09,4.14,3.43,4.16];

const P4_cap_t = [1999.74,1999.82,1999.94,2000.02,2000.07,2000.17,2000.25,2000.37,2000.45,2000.53,2000.65,2000.77,2000.89,2000.98,2001.07,2001.16,2001.28,2001.40,2001.56,2001.68,2001.80,2001.95,2002.07,2002.19,2002.31,2002.43,2002.55,2002.67,2002.79,2002.90,2002.98,2003.07,2003.18,2003.30,2003.42,2003.54,2003.66,2003.77,2003.89,2003.97,2004.07,2004.21,2004.29,2004.41,2004.53,2004.64,2004.76,2004.88,2005.00,2005.07,2005.20,2005.32,2005.44,2005.55,2005.67,2005.79,2005.91,2005.99,2006.07,2006.19,2006.31,2006.42,2006.54,2006.66,2006.78,2006.90,2007.07,2007.18,2007.29,2007.41,2007.51,2007.61,2007.69,2007.77,2007.89,2008.01,2008.07,2008.20,2008.32,2008.44,2008.52,2008.60,2008.68,2008.80,2008.88,2008.99,2009.07,2009.17,2009.27,2009.39,2009.51,2009.63,2009.75,2009.81,2009.93,2010.07,2010.21,2010.33,2010.45,2010.57,2010.69,2010.81,2010.93,2011.07,2011.21,2011.33,2011.45,2011.57,2011.69,2011.81,2011.93,2012.07,2012.21,2012.33,2012.45,2012.57,2012.69,2012.81,2012.97,2013.07,2013.20,2013.33,2013.44,2013.56,2013.68,2013.80,2013.88,2013.96,2014.07,2014.16,2014.28,2014.40,2014.52,2014.64,2014.76,2014.84,2014.92,2015.00,2015.07,2015.20,2015.32,2015.40,2015.52,2015.64,2015.76,2015.88,2016.00,2016.07,2016.20,2016.32,2016.44,2016.56,2016.64,2016.72,2016.80,2016.92,2017.07,2017.20,2017.32,2017.44,2017.56,2017.68,2017.80,2017.92,2018.07,2018.20,2018.32,2018.44,2018.56,2018.68,2018.80,2018.92,2019.07,2019.20,2019.28,2019.40,2019.52,2019.64,2019.74,2019.84,2019.92,2020.00,2020.07,2020.20,2020.32,2020.48,2020.60,2020.72,2020.80,2020.92,2021.07];
const P4_cap_v = [-6.06,-6.02,-6.06,-5.76,-6.33,-4.46,-4.06,-4.46,-5.36,-4.86,-3.76,-5.46,-6.47,-6.27,-6.02,-6.77,-6.67,-6.57,-6.97,-6.67,-6.37,-5.76,-5.24,-5.56,-5.46,-4.86,-5.26,-5.16,-5.46,-5.26,-6.16,-5.46,-4.76,-4.66,-4.56,-4.76,-5.16,-5.66,-5.86,-6.06,-5.92,-5.46,-4.56,-4.46,-4.36,-4.76,-4.96,-4.46,-3.65,-3.9,-4.06,-4.16,-4.26,-4.86,-4.06,-3.35,-3.45,-2.95,-2.61,-2.45,-2.55,-2.65,-2.55,-2.75,-2.45,-2.35,-3.29,-2.95,-3.15,-2.75,-2.05,-2.55,-2.95,-2.25,-2.85,-2.15,-2.57,-2.95,-3.65,-3.86,-4.46,-4.66,-4.16,-4.16,-4.26,-3.25,-4.66,-3.45,-2.55,-2.45,-2.55,-2.65,-2.25,-1.85,-1.75,-1.79,-1.55,-1.55,-1.75,-1.45,-0.84,-0.44,0.16,0.26,0.06,0.26,-0.04,0.26,-0.64,-1.95,-1.75,-1.24,-1.75,-2.15,-2.45,-2.25,-2.05,-2.45,-2.55,-2.67,-2.15,-2.45,-2.65,-2.85,-3.65,-5.16,-4.96,-3.45,-4.42,-5.16,-5.06,-4.66,-4.46,-4.86,-5.46,-5.96,-6.37,-5.66,-4.3,-4.06,-3.76,-3.76,-4.46,-5.26,-5.26,-5.76,-6.16,-5.32,-5.36,-5.26,-5.26,-5.06,-4.96,-3.35,-3.65,-3.45,-4.2,-3.65,-3.55,-3.65,-4.26,-4.06,-3.65,-3.25,-3.98,-3.76,-3.35,-2.95,-2.85,-2.45,-2.35,-2.05,-0.06,-1.04,-0.74,-1.04,-0.74,-0.44,0.96,0.16,-0.04,-1.45,-0.8,-0.04,0.66,1.16,1.26,0.96,1.53,1.16,-0.06];

const P4_mom_t = [1999.74,1999.82,1999.90,1999.98,2000.07,2000.17,2000.29,2000.37,2000.49,2000.61,2000.77,2000.89,2001.00,2001.07,2001.16,2001.28,2001.40,2001.52,2001.60,2001.72,2001.84,2001.95,2002.07,2002.19,2002.31,2002.43,2002.59,2002.71,2002.83,2002.94,2003.07,2003.18,2003.30,2003.42,2003.54,2003.66,2003.77,2003.89,2003.97,2004.07,2004.21,2004.33,2004.45,2004.56,2004.68,2004.80,2004.92,2005.00,2005.07,2005.20,2005.32,2005.44,2005.55,2005.67,2005.79,2005.91,2005.99,2006.07,2006.19,2006.31,2006.42,2006.54,2006.70,2006.82,2006.94,2007.07,2007.21,2007.33,2007.45,2007.57,2007.69,2007.77,2007.89,2008.01,2008.07,2008.20,2008.32,2008.44,2008.56,2008.68,2008.80,2008.92,2008.99,2009.07,2009.19,2009.31,2009.43,2009.51,2009.63,2009.75,2009.81,2009.93,2010.07,2010.21,2010.33,2010.49,2010.65,2010.81,2010.97,2011.07,2011.21,2011.33,2011.49,2011.65,2011.81,2011.97,2012.07,2012.25,2012.41,2012.57,2012.73,2012.89,2012.97,2013.07,2013.20,2013.33,2013.44,2013.52,2013.68,2013.76,2013.88,2014.07,2014.20,2014.32,2014.44,2014.60,2014.76,2014.92,2015.07,2015.20,2015.32,2015.44,2015.56,2015.68,2015.80,2015.92,2016.07,2016.16,2016.28,2016.40,2016.52,2016.64,2016.76,2016.88,2017.07,2017.20,2017.32,2017.44,2017.56,2017.68,2017.80,2017.92,2018.07,2018.20,2018.32,2018.44,2018.56,2018.68,2018.80,2018.96,2019.07,2019.20,2019.32,2019.44,2019.56,2019.68,2019.80,2019.92,2020.07,2020.20,2020.32,2020.44,2020.56,2020.68,2020.80,2020.92,2021.00,2021.07];
const P4_mom_v = [3.37,3.47,3.27,2.97,3.57,3.67,4.08,3.98,4.38,3.88,3.98,4.08,3.88,3.57,3.27,3.47,3.57,3.67,3.88,3.67,3.47,3.37,3.47,3.07,3.27,3.47,3.47,3.17,3.67,3.67,3.98,3.78,3.27,2.87,3.07,2.97,3.17,2.97,2.97,2.83,2.77,2.67,2.77,3.07,3.47,3.57,3.94,3.67,3.01,3.27,3.57,3.07,3.57,3.37,3.57,3.88,4.08,4.3,4.68,4.68,4.48,4.68,4.68,4.88,4.88,5.0,5.18,5.38,5.88,5.98,6.08,5.48,5.38,5.28,4.22,4.08,4.68,3.98,2.77,2.47,2.37,2.07,1.97,2.13,1.37,1.47,1.47,0.86,1.47,1.16,1.06,1.27,2.03,2.27,2.27,2.07,1.87,2.07,2.17,2.11,2.37,1.87,2.17,1.97,1.97,2.27,2.23,1.87,1.57,1.47,1.47,1.57,2.17,2.15,2.37,2.07,2.27,2.47,2.57,3.07,2.57,2.41,2.67,3.07,2.57,2.67,2.67,1.77,1.27,0.56,0.06,0.36,0.36,0.26,0.36,0.06,-0.3,-0.64,-0.04,0.46,0.86,1.16,1.06,1.47,1.41,1.16,0.46,0.66,0.46,0.36,0.16,0.66,1.02,0.66,0.66,1.16,1.06,1.27,1.47,1.57,1.77,1.77,2.57,2.77,3.27,3.57,4.08,4.28,4.28,4.38,4.88,4.68,5.08,5.38,5.68,5.78,6.49,6.27];

const P4_pb_t = [1999.74,1999.82,1999.90,1999.98,2000.07,2000.13,2000.21,2000.29,2000.41,2000.49,2000.61,2000.69,2000.81,2000.89,2000.98,2001.07,2001.16,2001.28,2001.40,2001.52,2001.60,2001.72,2001.84,2001.95,2002.07,2002.15,2002.27,2002.43,2002.59,2002.71,2002.83,2002.94,2003.07,2003.18,2003.30,2003.42,2003.54,2003.66,2003.77,2003.89,2003.97,2004.07,2004.17,2004.29,2004.41,2004.53,2004.64,2004.76,2004.84,2004.92,2005.00,2005.07,2005.16,2005.24,2005.32,2005.40,2005.51,2005.63,2005.75,2005.83,2005.91,2005.99,2006.07,2006.19,2006.31,2006.42,2006.54,2006.66,2006.74,2006.86,2006.98,2007.07,2007.18,2007.29,2007.41,2007.53,2007.65,2007.77,2007.85,2007.97,2008.07,2008.20,2008.28,2008.40,2008.48,2008.56,2008.64,2008.76,2008.92,2008.99,2009.07,2009.19,2009.31,2009.43,2009.51,2009.63,2009.75,2009.81,2009.93,2010.07,2010.21,2010.33,2010.41,2010.53,2010.65,2010.77,2010.89,2011.07,2011.21,2011.33,2011.45,2011.57,2011.69,2011.78,2011.85,2011.97,2012.07,2012.17,2012.25,2012.37,2012.49,2012.65,2012.77,2012.89,2013.01,2013.07,2013.20,2013.33,2013.44,2013.60,2013.72,2013.84,2013.96,2014.07,2014.20,2014.32,2014.40,2014.52,2014.60,2014.72,2014.84,2014.96,2015.07,2015.20,2015.32,2015.48,2015.60,2015.72,2015.84,2015.96,2016.07,2016.20,2016.32,2016.44,2016.56,2016.68,2016.76,2016.88,2017.00,2017.07,2017.24,2017.36,2017.48,2017.60,2017.72,2017.84,2017.96,2018.07,2018.20,2018.32,2018.44,2018.56,2018.68,2018.84,2018.96,2019.07,2019.16,2019.28,2019.44,2019.60,2019.68,2019.80,2019.92,2020.07,2020.20,2020.32,2020.44,2020.56,2020.68,2020.80,2020.92,2021.07];
const P4_pb_v = [-1.89,-1.85,-2.25,-2.95,-1.0,-1.45,-2.45,-3.15,-2.45,-3.25,-3.25,-3.55,-2.95,-2.35,-0.58,-3.15,-3.55,-3.76,-3.65,-3.76,-3.45,-3.76,-3.15,-3.65,-3.78,-2.75,-2.65,-2.35,-2.55,-2.65,-2.65,-3.55,-4.06,-3.65,-3.76,-3.65,-4.46,-4.36,-4.66,-4.56,-4.86,-4.6,-3.86,-3.35,-3.15,-3.15,-2.85,-2.55,-2.01,-2.15,-2.85,-3.17,-2.55,-2.25,-2.45,-1.45,-0.94,-0.74,-0.28,-1.04,-1.95,0.46,1.16,1.97,1.57,1.77,1.47,1.97,1.37,1.47,1.27,1.33,0.46,1.16,1.77,2.77,3.57,4.38,5.48,5.38,6.12,6.47,6.89,6.39,5.88,6.18,6.39,6.0,5.28,3.78,4.12,3.47,3.27,2.87,2.67,3.07,3.47,3.57,3.63,4.24,4.48,3.78,4.08,3.37,3.88,3.57,3.67,3.25,2.87,3.07,3.37,2.67,3.27,2.77,1.37,1.27,0.92,0.46,-0.14,-0.24,-0.64,-0.94,-1.14,-1.65,-2.25,-2.43,-2.85,-2.55,-2.75,-2.95,-3.25,-3.45,-2.75,-2.73,-2.45,-1.85,-1.24,-1.55,-1.35,-1.14,-0.64,-0.14,-1.37,-0.44,0.16,0.86,0.36,1.06,0.66,-0.24,-1.33,-1.24,-1.65,-1.35,-1.45,-1.24,0.96,-0.34,-0.04,0.1,0.56,1.57,2.57,2.77,2.17,2.97,3.17,3.09,2.67,2.57,2.37,2.17,2.57,3.17,3.37,4.14,3.57,3.67,3.57,3.57,3.17,3.67,4.08,3.43,3.17,2.47,2.57,3.07,2.77,2.67,3.17,4.16];

// ---------- styling ----------
const W = 1138, H = 1372;
const SERIES = ['cap','mom','pb'];
const NAMES = {cap:'cap', mom:'mom', pb:'p/b'};
const COL  = {cap:'#d8290e', mom:'#ff8c00', pb:'#1f9c94'};
const LCOL = {cap:'rgba(216,41,14,0.42)', mom:'rgba(255,140,0,0.42)', pb:'rgba(31,156,148,0.42)'};
const FONT = 'Liberation Sans, Arial, Helvetica, sans-serif';

const panels = [
  {n:1, px:[59,1138], py:[89,343],  xr:[1994.52,2022.26], yr:[-16.4,7.66],
   xt:[2000,2010,2020], xm:[1995,2005,2015], yt:[5,0,-5,-10,-15], ym:[7.5,2.5,-2.5,-7.5,-12.5],
   lines:{cap:[P1_cap_t,P1_cap_v], mom:[P1_mom_t,P1_mom_v], pb:[P1_pb_t,P1_pb_v]},
   mt:YEARS_1Y, pts:{cap:P1_cap_pts, mom:P1_mom_pts, pb:P1_pb_pts}},
  {n:2, px:[59,1138], py:[425,679], xr:[1994.52,2022.26], yr:[-7.7,8.02],
   xt:[2000,2010,2020], xm:[1995,2005,2015], yt:[8,4,0,-4], ym:[6,2,-2,-6],
   lines:{cap:[P2_cap_t,P2_cap_v], mom:[P2_mom_t,P2_mom_v], pb:[P2_pb_t,P2_pb_v]},
   mt:YEARS_1Y, pts:{cap:P2_cap_pts, mom:P2_mom_pts, pb:P2_pb_pts}},
  {n:3, px:[52,1133], py:[752,1004], xr:[1998.67,2022.14], yr:[-15.7,8.05],
   xt:[2000,2005,2010,2015,2020], xm:[2002.5,2007.5,2012.5,2017.5], yt:[5,0,-5,-10,-15], ym:[7.5,2.5,-2.5,-7.5,-12.5],
   lines:{cap:[P3_cap_t,P3_cap_v], mom:[P3_mom_t,P3_mom_v], pb:[P3_pb_t,P3_pb_v]},
   mt:YEARS_5Y, pts:{cap:P3_cap_pts, mom:P3_mom_pts, pb:P3_pb_pts}},
  {n:4, px:[52,1133], py:[1087,1340], xr:[1998.67,2022.14], yr:[-7.6,7.75],
   xt:[2000,2005,2010,2015,2020], xm:[2002.5,2007.5,2012.5,2017.5], yt:[4,0,-4], ym:[6,2,-2,-6],
   lines:{cap:[P4_cap_t,P4_cap_v], mom:[P4_mom_t,P4_mom_v], pb:[P4_pb_t,P4_pb_v]},
   mt:YEARS_5Y, pts:{cap:P4_cap_pts, mom:P4_mom_pts, pb:P4_pb_pts}}
];

const traces = [];
const layout = {
  width:W, height:H, margin:{l:0,r:0,t:0,b:0},
  paper_bgcolor:'#ffffff', plot_bgcolor:'#ffffff',
  font:{family:FONT, color:'#000'}, showlegend:false, hovermode:false,
  shapes:[], annotations:[]
};
const mismatch = [];

panels.forEach(p => {
  const xa = p.n === 1 ? 'x' : 'x' + p.n, ya = p.n === 1 ? 'y' : 'y' + p.n;
  const xk = p.n === 1 ? 'xaxis' : 'xaxis' + p.n, yk = p.n === 1 ? 'yaxis' : 'yaxis' + p.n;
  const common = {showline:true, mirror:true, linecolor:'#b3b3b3', linewidth:2, zeroline:false,
    showgrid:true, gridcolor:'#cbcbcb', gridwidth:1, tickwidth:1, tickcolor:'#b3b3b3',
    tickfont:{size:20, family:FONT, color:'#4d4d4d'}, fixedrange:true, tickmode:'array'};
  layout[xk] = Object.assign({}, common, {domain:[p.px[0]/W, p.px[1]/W], range:p.xr, anchor:ya,
    ticks:'', tickvals:p.xt, ticktext:p.xt.map(String),
    minor:{tickmode:'array', tickvals:p.xm, showgrid:true, gridcolor:'#cbcbcb', gridwidth:1, ticks:''}});
  layout[yk] = Object.assign({}, common, {domain:[1-p.py[1]/H, 1-p.py[0]/H], range:p.yr, anchor:xa,
    ticks:'outside', ticklen:4, tickvals:p.yt, ticktext:p.yt.map(String),
    minor:{tickmode:'array', tickvals:p.ym, showgrid:true, gridcolor:'#cbcbcb', gridwidth:1, ticks:''}});
  // short tick marks under the x axis
  const hpx = p.py[1] - p.py[0];
  p.xt.forEach(v => layout.shapes.push({type:'line', xref:xa, yref:ya + ' domain', x0:v, x1:v,
    y0:0, y1:-5/hpx, line:{color:'#b3b3b3', width:1}, layer:'above'}));
  SERIES.forEach(s => {
    const [t, v] = p.lines[s];
    if (t.length !== v.length) mismatch.push('P' + p.n + ' ' + s + ' ' + t.length + '/' + v.length);
    traces.push({type:'scatter', mode:'lines', x:t, y:v, xaxis:xa, yaxis:ya,
      line:{color:LCOL[s], width:2.6}, showlegend:false, hoverinfo:'skip'});
  });
  SERIES.forEach(s => {
    traces.push({type:'scatter', mode:'markers', x:p.mt, y:p.pts[s], xaxis:xa, yaxis:ya,
      marker:{color:COL[s], size:10, line:{width:0}}, showlegend:false, hoverinfo:'skip'});
  });
  [2.5, -2.5].forEach(c => layout.shapes.push({type:'line', xref:xa + ' domain', x0:0, x1:1, yref:ya, y0:c, y1:c,
    line:{color:'#000', width:2, dash:'8px,5px'}, layer:'above'}));
});

function ann(text, px, py, size, extra) {
  layout.annotations.push(Object.assign({text:text, xref:'paper', yref:'paper', x:px/W, y:1-py/H,
    xanchor:'left', yanchor:'middle', showarrow:false, font:{size:size, family:FONT, color:'#000'}}, extra || {}));
}

// legend (key) drawn at the top right
const LEG = [{s:'cap', cx:760, tx:786}, {s:'mom', cx:846, tx:872}, {s:'pb', cx:944, tx:970}];
const LEG_Y = 51;
ann('<b>Characteristic</b>', 739, 16, 18);
LEG.forEach(it => {
  layout.shapes.push({type:'line', xref:'paper', yref:'paper', x0:(it.cx-15)/W, x1:(it.cx+15)/W,
    y0:1-LEG_Y/H, y1:1-LEG_Y/H, line:{color:LCOL[it.s], width:4}});
  layout.shapes.push({type:'circle', xref:'paper', yref:'paper', x0:(it.cx-5)/W, x1:(it.cx+5)/W,
    y0:1-(LEG_Y+5)/H, y1:1-(LEG_Y-5)/H, fillcolor:COL[it.s], line:{width:0}});
  ann(NAMES[it.s], it.tx-3, LEG_Y, 20, {font:{size:20, family:FONT, color:'#1a1a1a'}});
});

ann('<b>Scaled demands with additional predictors</b>', 57, 22, 28.4);
ann('<i>Pooled estimation t-statistic</i>', 57, 66, 20);
ann('<b>1Y samples</b>', 359, 64, 30.5);
ann('<i>Within estimation t-statistic (with fixed effects)</i>', 57, 402, 20);
ann('<i>Pooled estimation t-statistic</i>', 50, 736, 20);
ann('<b>5Y samples</b>', 337, 732, 30.5);
ann('<i>Within estimation t-statistic (with fixed effects)</i>', 50, 1065, 20);
if (mismatch.length) ann('MISMATCH: ' + mismatch.join('; '), 300, 1365, 12, {font:{size:12,color:'red'}});

Plotly.newPlot('chart', traces, layout, {staticPlot:true, displayModeBar:false});
</script></body></html>
